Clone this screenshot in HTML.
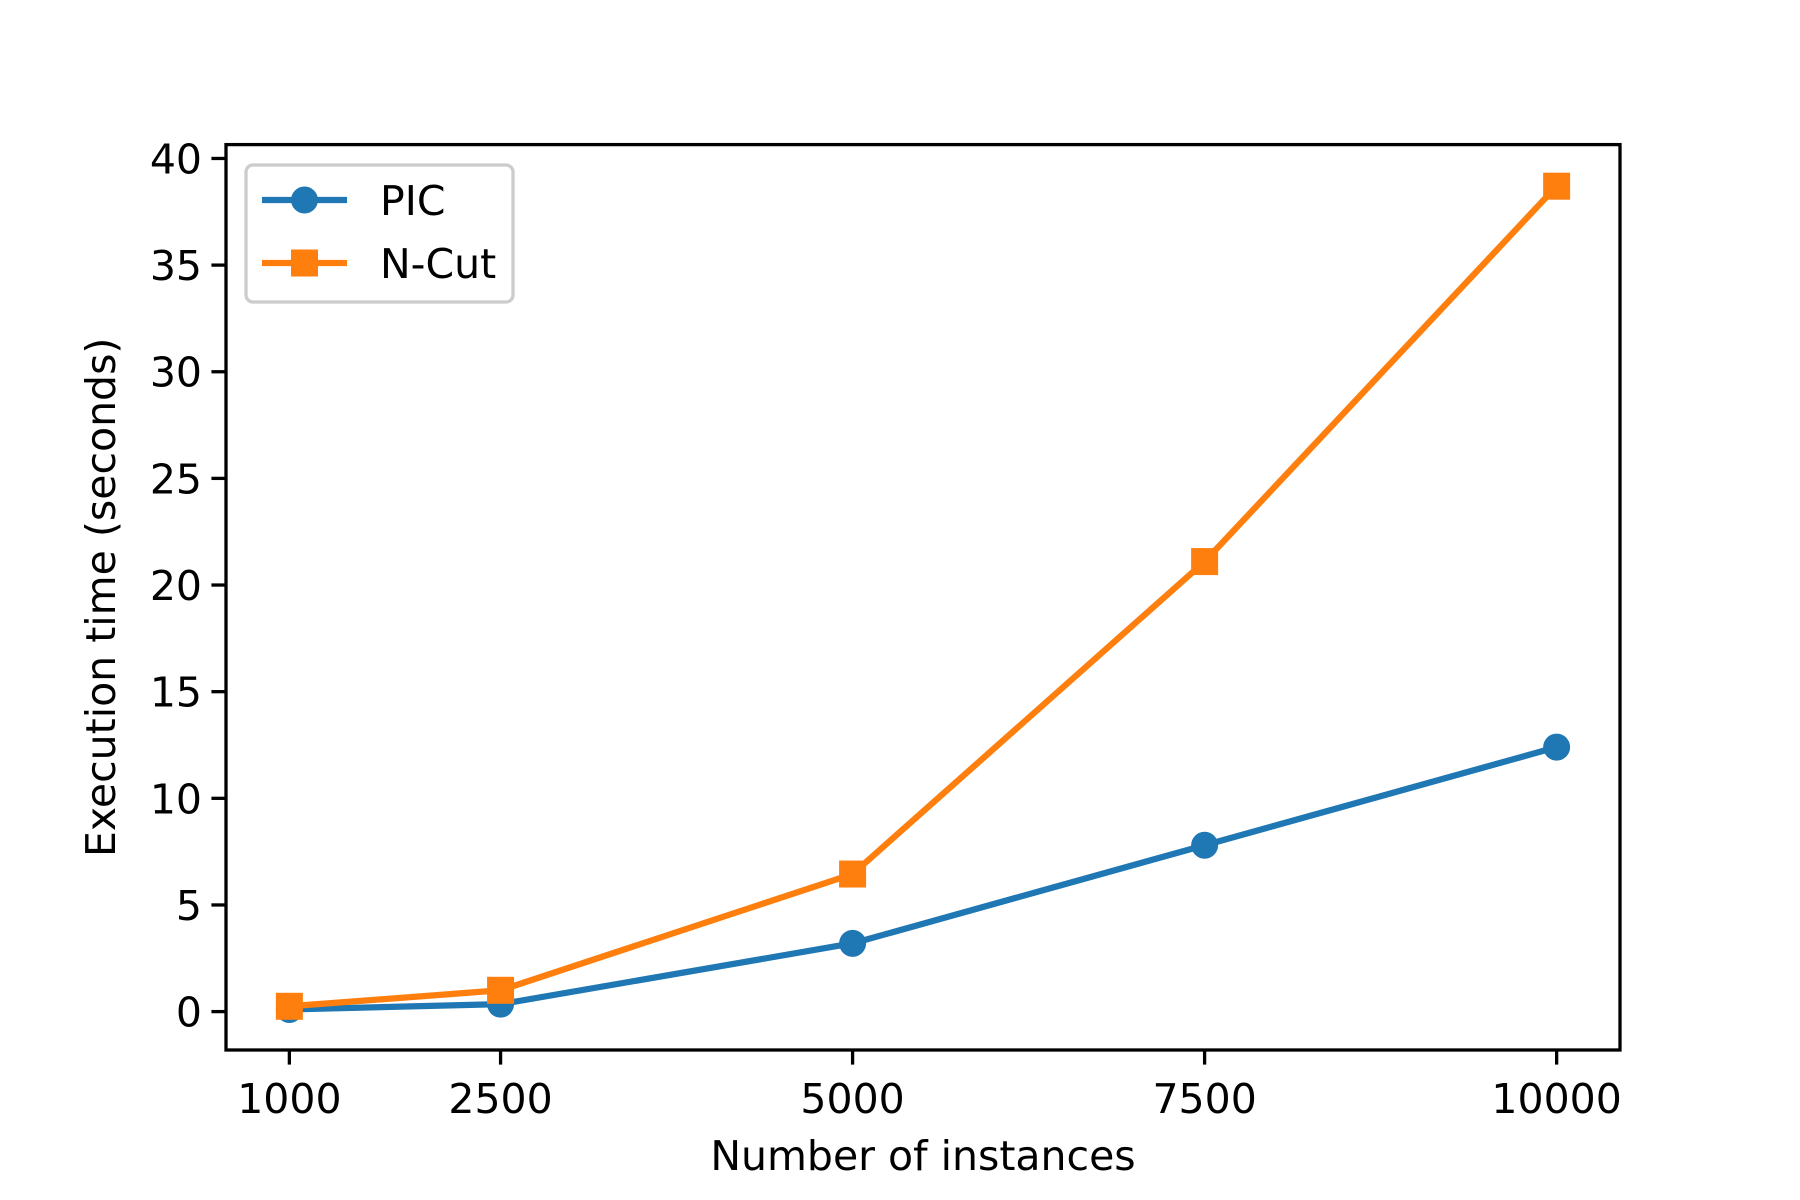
<!DOCTYPE html>
<html><head><meta charset="utf-8"><style>
html,body{margin:0;padding:0;background:#fff}
svg{display:block;font-family:"DejaVu Sans","Liberation Sans",sans-serif}
</style></head><body>
<svg width="1800" height="1200" viewBox="0 0 1800 1200" id="chart">
<rect x="0" y="0" width="1800" height="1200" fill="#fff"/>
<g id="plot"></g>
</svg>
<script>
const categories=[1000,2500,5000,7500,10000];
const picValues=[0.1,0.35,3.2,7.8,12.4];
const ncutValues=[0.25,1.0,6.45,21.1,38.7];
const yTicks=[0,5,10,15,20,25,30,35,40];
const xTickLabels=["1000","2500","5000","7500","10000"];

const L=226,R=1620,T=144.6,B=1050;
const xmin=550,xmax=10450,ymin=-1.8,ymax=40.65;
const sx=v=>L+(v-xmin)/(xmax-xmin)*(R-L);
const sy=v=>B-(v-ymin)/(ymax-ymin)*(B-T);
const NS="http://www.w3.org/2000/svg";
const g=document.getElementById('plot');
function mk(t,a,p){const e=document.createElementNS(NS,t);for(const k in a)e.setAttribute(k,a[k]);(p||g).appendChild(e);return e;}

categories.forEach((c,i)=>{
  const x=sx(c);
  const t=mk('line',{x1:x,x2:x,y1:B,y2:B+14.6,stroke:'#000','stroke-width':3.3});
  
  
  const l=mk('text',{x:x,y:B+63,'font-size':41,'text-anchor':'middle',fill:'#000'});
  l.textContent=xTickLabels[i];
  
  
});
yTicks.forEach(v=>{
  const y=sy(v);
  const t=mk('line',{x1:L-14.6,x2:L,y1:y,y2:y,stroke:'#000','stroke-width':3.3});
  
  
  const l=mk('text',{x:L-24,y:y+15,'font-size':41,'text-anchor':'end',fill:'#000'});
  l.textContent=String(v);
  
  
});

function series(vals,color,marker,name){
  const pts=categories.map((c,i)=>sx(c)+','+sy(vals[i])).join(' ');
  const pl=mk('polyline',{points:pts,fill:'none',stroke:color,'stroke-width':6.25,'stroke-linejoin':'round','stroke-linecap':'square'});
  
  
  categories.forEach((c,i)=>{
    let m;
    if(marker==='o') m=mk('circle',{cx:sx(c),cy:sy(vals[i]),r:13.5,fill:color});
    else m=mk('rect',{x:sx(c)-13.5,y:sy(vals[i])-13.5,width:27,height:27,fill:color});
    
    
  });
}
series(picValues,'#1f77b4','o','pic');
series(ncutValues,'#ff7f0e','s','ncut');

const fr=mk('rect',{x:L,y:T,width:R-L,height:B-T,fill:'none',stroke:'#000','stroke-width':3.3});



const lg=mk('g',{});


mk('rect',{x:246,y:165,width:267,height:137,rx:7,fill:'#fff','fill-opacity':0.8,stroke:'#ccc','stroke-width':3.3},lg);
const e1=mk('g',{},lg);


mk('line',{x1:262,x2:347,y1:200,y2:200,stroke:'#1f77b4','stroke-width':6.25},e1);
mk('circle',{cx:304.5,cy:200,r:13.5,fill:'#1f77b4'},e1);
mk('text',{x:380,y:215,'font-size':41,fill:'#000'},e1).textContent='PIC';
const e2=mk('g',{},lg);


mk('line',{x1:262,x2:347,y1:263,y2:263,stroke:'#ff7f0e','stroke-width':6.25},e2);
mk('rect',{x:291,y:249.5,width:27,height:27,fill:'#ff7f0e'},e2);
mk('text',{x:380,y:278,'font-size':41,fill:'#000'},e2).textContent='N-Cut';

const xl=mk('text',{x:(L+R)/2,y:1170,'font-size':41,'text-anchor':'middle',fill:'#000'});
xl.textContent='Number of instances';


const yl=mk('text',{x:0,y:0,'font-size':41,'text-anchor':'middle',fill:'#000',transform:'translate(115,'+((T+B)/2)+') rotate(-90)'});
yl.textContent='Execution time (seconds)';


</script>
</body></html>
